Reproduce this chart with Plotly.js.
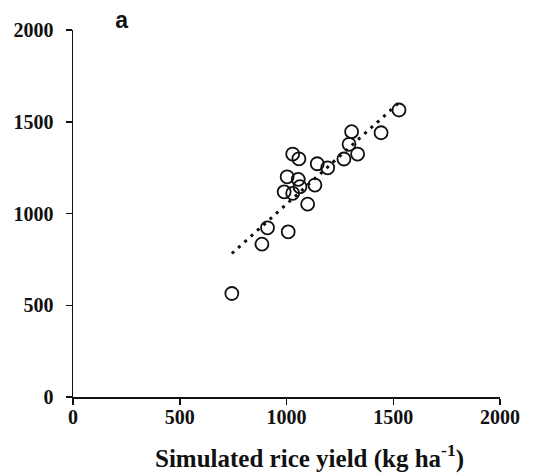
<!DOCTYPE html>
<html>
<head>
<meta charset="utf-8">
<script src="https://cdn.plot.ly/plotly-3.0.1.min.js"></script>
<style>
  html, body { margin: 0; padding: 0; background: #fff; }
  #chart { width: 535px; height: 473px; }
</style>
</head>
<body>
<div id="chart"></div>
<script>
var simulated = [1527, 1305, 1443, 1293, 1333, 1269, 1029, 1058, 1144, 1193, 1003,
                 1055, 1133, 1063, 989, 1029, 1099, 911, 1008, 885, 744];
var observed  = [1564, 1446, 1440, 1377, 1324, 1297, 1324, 1298, 1271, 1249, 1200,
                 1186, 1155, 1146, 1118, 1110, 1051, 922, 900, 833, 564];

// linear trend line ends
var trendX = [744, 1527];
var trendY = [782, 1604];

var tickVals = [0, 500, 1000, 1500, 2000];
var tickText = ['0', '500', '1000', '1500', '2000'];

var serif = 'Liberation Serif';

var pts = {
  x: simulated,
  y: observed,
  type: 'scatter',
  mode: 'markers',
  marker: {
    symbol: 'circle-open',
    size: 13,
    color: '#111',
    line: { width: 1.8, color: '#111' }
  },
  hoverinfo: 'x+y'
};

var trend = {
  x: trendX,
  y: trendY,
  type: 'scatter',
  mode: 'lines',
  line: { color: '#111', width: 3, dash: '3px,5.5px' },
  hoverinfo: 'skip'
};

var axisCommon = {
  range: [0, 2000],
  tickvals: tickVals,
  ticktext: tickText,
  showgrid: false,
  zeroline: false,
  showline: true,
  linecolor: '#111',
  linewidth: 1.5,
  ticks: 'outside',
  ticklen: 6,
  tickwidth: 1.5,
  tickcolor: '#111',
  tickfont: { family: serif, size: 20, color: '#111', weight: 'bold' },
  fixedrange: true
};

var layout = {
  width: 535,
  height: 473,
  margin: { l: 73, r: 35, t: 30, b: 76 },
  paper_bgcolor: '#fff',
  plot_bgcolor: '#fff',
  showlegend: false,
  title: {
    text: '<b>a</b>',
    font: { family: 'Liberation Sans', size: 23, color: '#111' },
    xref: 'container',
    yref: 'container',
    x: 121.7 / 535,
    xanchor: 'center',
    y: 1 - 20 / 473,
    yanchor: 'middle'
  },
  annotations: [{
    text: '<b>Simulated rice yield (kg ha<sup>-1</sup>)</b>',
    font: { family: serif, size: 25, color: '#111' },
    xref: 'paper', yref: 'paper',
    x: 0.555, y: -0.162,
    xanchor: 'center', yanchor: 'middle',
    showarrow: false
  }],
  xaxis: Object.assign({}, axisCommon, {
    ticklabelstandoff: -5
  }),
  yaxis: Object.assign({}, axisCommon, {
    ticklabelstandoff: 8
  })
};

Plotly.newPlot('chart', [trend, pts], layout, { displayModeBar: false, staticPlot: true });
</script>
</body>
</html>
